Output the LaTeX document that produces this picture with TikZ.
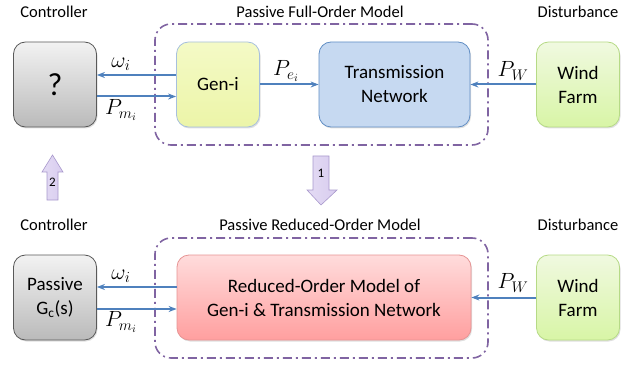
\RequirePackage{fix-cm}
\documentclass[tikz,border=0pt]{standalone}
\usepackage{amsmath}
\usepackage{fontspec}
\setmainfont{Carlito}
\usetikzlibrary{arrows.meta,shadows}
\definecolor{sigblue}{HTML}{4F81BD}
\definecolor{grpviolet}{HTML}{8064A2}
\definecolor{arrowfill}{HTML}{D8CCEF}
\definecolor{arrowedge}{HTML}{A898CC}
\definecolor{gentop}{HTML}{F4FAC6}
\definecolor{genbot}{HTML}{ECF5A8}
\definecolor{netfill}{HTML}{C6D9F1}
\definecolor{windtop}{HTML}{F0F9E0}
\definecolor{windbot}{HTML}{D8F5A6}
\definecolor{windedge}{HTML}{B6DA86}
\definecolor{romtop}{HTML}{FFDCDC}
\definecolor{rombot}{HTML}{FF9F9F}
\definecolor{romedge}{HTML}{E69494}

\begin{document}
\begin{tikzpicture}[x=1pt,y=-1pt,
  blk/.style={draw,rounded corners=12pt,minimum width=83pt,minimum height=85pt,
    align=center,font=\fontsize{19}{24}\selectfont,line width=0.8pt,
    drop shadow={opacity=0.25,shadow xshift=1pt,shadow yshift=-1.5pt}},
  graybox/.style={draw=black!65,top color=black!5,bottom color=black!27},
  yellowbox/.style={draw=sigblue!50,top color=gentop,bottom color=genbot},
  bluebox/.style={draw=sigblue!90,fill=netfill},
  greenbox/.style={draw=windedge,top color=windtop,bottom color=windbot},
  redbox/.style={draw=romedge,top color=romtop,bottom color=rombot},
  sig/.style={draw=sigblue,line width=2pt,-{Stealth[length=8pt,width=6pt]}},
  grp/.style={draw=grpviolet,line width=1.6pt,rounded corners=16pt,
    dash pattern=on 9pt off 4pt on 2pt off 4pt},
  lbl/.style={font=\fontsize{16.5}{20}\selectfont},
  mth/.style={font=\fontsize{22}{26}\selectfont},
  blockarrow/.style={draw=arrowedge,line width=0.6pt,left color=arrowfill!70!white,right color=arrowfill}
]
  \useasboundingbox (0,0) rectangle (639,366);

  \node[lbl] (ctrltitle) at (54,12) {Controller};
  \node[lbl] (fulltitle) at (320,12) {Passive Full-Order Model};
  \node[lbl] (disttitle) at (578,12) {Disturbance};
  \node[grp,minimum width=333pt,minimum height=121pt] (full) at (321.5,84.5) {};
  \node[blk,graybox,font=\fontsize{32}{36}\selectfont] (ctrl) at (55,84.5) {?};
  \node[blk,yellowbox] (gen) at (218,84.5) {Gen-i};
  \node[blk,bluebox,minimum width=151pt] (net) at (394.5,84.5) {Transmission\\Network};
  \node[blk,greenbox] (wind) at (578,84.5) {Wind\\Farm};
  \draw[sig] ([yshift=9.5pt]gen.west) -- ([yshift=9.5pt]ctrl.east);
  \draw[sig] ([yshift=-12pt]ctrl.east) -- ([yshift=-12pt]gen.west);
  \draw[sig] (gen) -- (net);
  \draw[sig] (wind) -- (net);
  \node[mth] (omega) at (121,64) {$\omega_i$};
  \node[mth] (pmech) at (121,110) {$P_{m_i}$};
  \node[mth] (pelec) at (286,71) {$P_{e_i}$};
  \node[mth] (pwind) at (513,71) {$P_W$};

  \draw[blockarrow] (47,200) -- (47,172) -- (42,172) -- (52.5,155) -- (63,172)
    -- (58,172) -- (58,200) -- cycle;
  \node[font=\fontsize{13}{15}\selectfont] (two) at (52.5,182) {2};
  \draw[blockarrow] (313,156) -- (329,156) -- (329,190) -- (337,190) -- (321,205)
    -- (307,190) -- (313,190) -- cycle;
  \node[font=\fontsize{13}{15}\selectfont] (one) at (321,173) {1};

  \node[lbl] (ctrltitleb) at (54,225) {Controller};
  \node[lbl] (redtitle) at (320,225) {Passive Reduced-Order Model};
  \node[lbl] (disttitleb) at (578,225) {Disturbance};
  \node[grp,minimum width=333pt,minimum height=120pt] (reduced) at (321.5,298) {};
  \node[blk,graybox] (gc) at (55,297.5) {Passive\\G\textsubscript{c}(s)};
  \node[blk,redbox,minimum width=294pt] (rom) at (324,297.5)
    {Reduced-Order Model of\\Gen-i \& Transmission Network};
  \node[blk,greenbox] (windb) at (578,297.5) {Wind\\Farm};
  \draw[sig] ([yshift=10.5pt]rom.west) -- ([yshift=10.5pt]gc.east);
  \draw[sig] ([yshift=-11.5pt]gc.east) -- ([yshift=-11.5pt]rom.west);
  \draw[sig] (windb) -- (rom);
  \node[mth] (omegab) at (121,276) {$\omega_i$};
  \node[mth] (pmechb) at (121,322) {$P_{m_i}$};
  \node[mth] (pwindb) at (513,283) {$P_W$};
\end{tikzpicture}
\end{document}
